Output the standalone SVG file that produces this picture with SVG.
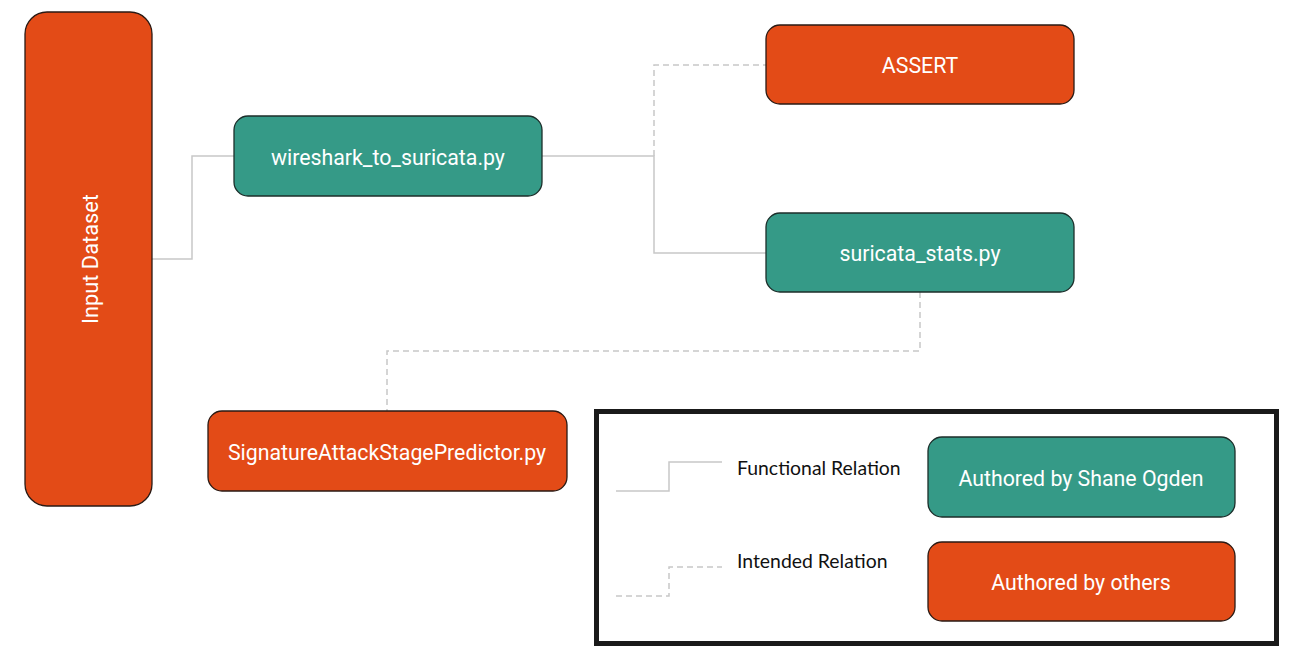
<svg xmlns="http://www.w3.org/2000/svg" width="1290" height="655" viewBox="0 0 1290 655">
<style>
.or{fill:#E34B17;stroke:#2a1a14;stroke-width:1.3}
.te{fill:#359A87;stroke:#1c2e2a;stroke-width:1.3}
.lbl{font-family:Roboto,"Liberation Sans",sans-serif;font-size:21.3px;fill:#fff;text-anchor:middle;dominant-baseline:central}
.leg{font-family:Lato,"Liberation Sans",sans-serif;font-size:19.4px;fill:#111}
.fn{fill:none;stroke:#c8c8c8;stroke-width:1.5}
.dn{fill:none;stroke:#c8c8c8;stroke-width:1.5;stroke-dasharray:6 4}
</style>
<rect width="1290" height="655" fill="#fff"/>
<g id="connectors">
<polyline class="fn" points="152,259 192,259 192,156 234,156"/>
<polyline class="fn" points="542,156 654,156 654,253 766,253"/>
<polyline class="dn" points="654,156 654,65 766,65"/>
<polyline class="dn" points="920,292 920,351 387,351 387,411"/>
</g>
<g id="input-dataset"><rect class="or" x="25" y="12" width="127" height="494" rx="22"/><text class="lbl" style="font-size:21.8px" transform="translate(90,259) rotate(-90)">Input Dataset</text></g>
<g id="wireshark"><rect class="te" x="234" y="116" width="308" height="80" rx="14"/><text class="lbl" x="388" y="157">wireshark_to_suricata.py</text></g>
<g id="assert"><rect class="or" x="766" y="25" width="308" height="79" rx="14"/><text class="lbl" x="920" y="65">ASSERT</text></g>
<g id="suricata-stats"><rect class="te" x="766" y="213" width="308" height="79" rx="14"/><text class="lbl" x="920" y="253">suricata_stats.py</text></g>
<g id="predictor"><rect class="or" x="208" y="411" width="359" height="80" rx="14"/><text class="lbl" x="387" y="452">SignatureAttackStagePredictor.py</text></g>
<g id="legend">
<rect x="596.5" y="411.5" width="680" height="232" fill="#fff" stroke="#1a1a1a" stroke-width="5"/>
<polyline class="fn" points="616,491 669,491 669,462 722,462"/>
<polyline class="dn" points="616,596 669,596 669,567 722,567"/>
<text class="leg" x="737" y="475">Functional Relation</text>
<text class="leg" x="737" y="568">Intended Relation</text>
<g id="legend-shane"><rect class="te" x="928" y="437" width="307" height="80" rx="14"/><text class="lbl" x="1081" y="478">Authored by Shane Ogden</text></g>
<g id="legend-others"><rect class="or" x="928" y="542" width="307" height="79" rx="14"/><text class="lbl" x="1081" y="582">Authored by others</text></g>
</g>
</svg>
